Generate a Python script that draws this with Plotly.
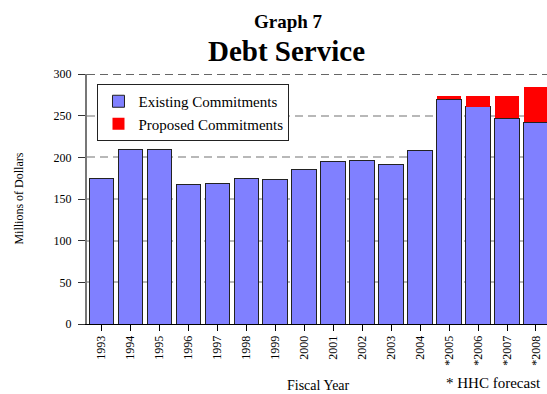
import plotly.graph_objects as go

# Fiscal years (forecast years flagged with an asterisk)
years = ["1993", "1994", "1995", "1996", "1997", "1998", "1999", "2000",
         "2001", "2002", "2003", "2004", "*2005", "*2006", "*2007", "*2008"]

# Debt service, millions of dollars
existing = [175, 210, 210, 168, 169, 175, 173, 186,
            195, 196, 192, 208, 270, 261, 247, 242]
proposed = [0, 0, 0, 0, 0, 0, 0, 0,
            0, 0, 0, 0, 4, 13, 27, 43]

y_ticks = [0, 50, 100, 150, 200, 250, 300]

SERIF = "Liberation Serif"

W, H = 547, 394
L, R, T, B = 86.5, 0, 74, 70
PW = W - L - R
PH = H - T - B


def px_x(x):
    return (x - L) / PW


def px_y(y):
    return (H - B - y) / PH


fig = go.Figure()
fig.add_trace(go.Bar(
    x=years, y=existing, name="Existing Commitments",
    marker=dict(color="#8080ff", line=dict(color="#222222", width=1)),
))
fig.add_trace(go.Bar(
    x=years, y=proposed, name="Proposed Commitments",
    marker=dict(color="#ff0000", line=dict(color="#ff0000", width=0)),
))

fig.update_layout(
    width=W, height=H,
    margin=dict(l=L, r=R, t=T, b=B, pad=0),
    barmode="stack",
    bargap=0.15,
    plot_bgcolor="white",
    paper_bgcolor="white",
    font=dict(family=SERIF, size=12, color="black"),
    showlegend=True,
    legend=dict(
        x=px_x(97), y=px_y(84), xanchor="left", yanchor="top",
        bgcolor="white", bordercolor="#222222", borderwidth=1,
        font=dict(family=SERIF, size=15, color="black"),
        traceorder="normal",
        itemwidth=30,
        entrywidth=192,
        tracegroupgap=0,
    ),
    xaxis=dict(
        type="category",
        range=[-0.5, 15.38],
        tickangle=-90,
        ticks="outside", ticklen=6, tickcolor="black",
        showline=True, linecolor="black", linewidth=1,
        showgrid=False,
        tickfont=dict(family=SERIF, size=12),
        fixedrange=True,
    ),
    yaxis=dict(
        range=[0, 300],
        tickvals=y_ticks,
        ticks="outside", ticklen=7, tickcolor="#333333",
        ticklabelstandoff=4,
        showline=True, linecolor="#777777", linewidth=2,
        showgrid=True, gridcolor="#b8b8b8", gridwidth=1.5,
        griddash="8px,5px",
        zeroline=False,
        tickfont=dict(family=SERIF, size=12),
        fixedrange=True,
    ),
    shapes=[
        dict(type="line", xref="paper", yref="y", x0=0, x1=1, y0=300, y1=300,
             line=dict(color="#666666", width=2, dash="8px,5px"), layer="above"),
    ],
    annotations=[
        dict(text="<b>Graph 7</b>", xref="paper", yref="paper",
             x=px_x(288), y=px_y(21), xanchor="center", yanchor="middle",
             showarrow=False, font=dict(family=SERIF, size=19)),
        dict(text="<b>Debt Service</b>", xref="paper", yref="paper",
             x=px_x(286), y=px_y(51), xanchor="center", yanchor="middle",
             showarrow=False, font=dict(family=SERIF, size=29)),
        dict(text="Millions of Dollars", xref="paper", yref="paper",
             x=px_x(18), y=px_y(199), xanchor="center", yanchor="middle",
             textangle=-90, showarrow=False, font=dict(family=SERIF, size=12)),
        dict(text="Fiscal Year", xref="paper", yref="paper",
             x=px_x(318), y=px_y(385), xanchor="center", yanchor="middle",
             showarrow=False, font=dict(family=SERIF, size=14)),
        dict(text="* HHC forecast", xref="paper", yref="paper",
             x=px_x(493), y=px_y(383), xanchor="center", yanchor="middle",
             showarrow=False, font=dict(family=SERIF, size=15)),
    ],
)

fig.write_html("out.html", config={"displayModeBar": False})
